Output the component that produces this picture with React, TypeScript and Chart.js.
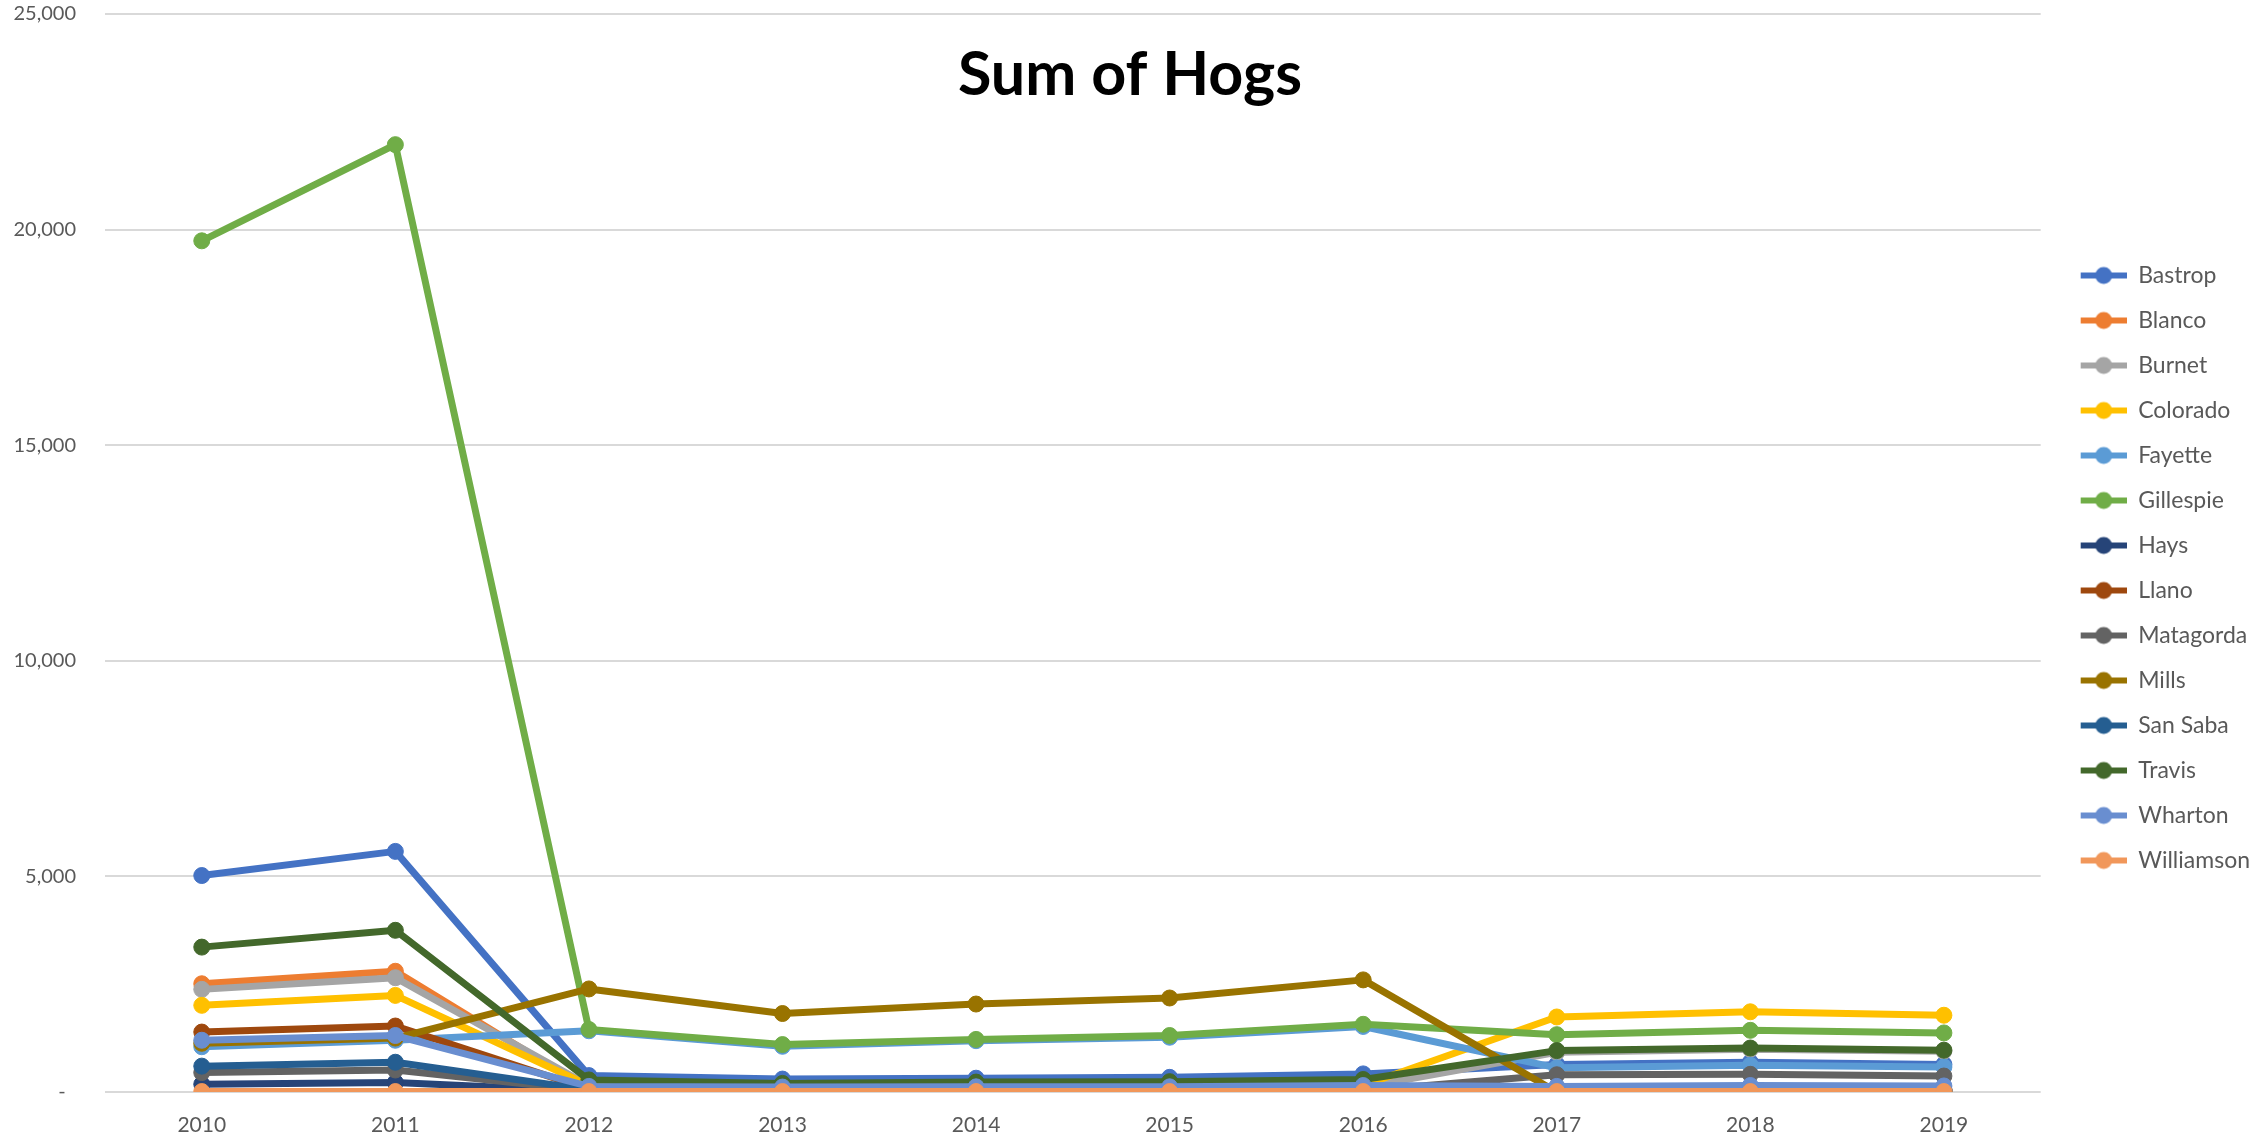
import React, { useEffect, useRef } from "react";
import { Chart, registerables } from "chart.js";

Chart.register(...registerables);

const chartTitle = "Sum of Hogs";
const years = ["2010", "2011", "2012", "2013", "2014", "2015", "2016", "2017", "2018", "2019"];

const bastrop = [5020, 5580, 380, 300, 320, 340, 420, 640, 690, 640];
const blanco = [2510, 2800, 60, 50, 50, 60, 80, 60, 60, 60];
const burnet = [2380, 2650, 150, 140, 150, 150, 110, 920, 990, 945];
const colorado = [2010, 2240, 150, 120, 130, 130, 150, 1740, 1860, 1780];
const fayette = [1050, 1200, 1420, 1060, 1190, 1270, 1520, 560, 620, 580];
const gillespie = [19740, 21970, 1450, 1100, 1220, 1310, 1570, 1330, 1430, 1370];
const hays = [180, 220, 20, 20, 20, 20, 20, 20, 20, 20];
const llano = [1390, 1530, 60, 40, 40, 40, 40, 40, 40, 40];
const matagorda = [450, 510, 30, 30, 30, 30, 30, 400, 410, 370];
const mills = [1130, 1250, 2390, 1820, 2040, 2180, 2600, 0, 0, 0];
const sanSaba = [600, 690, 50, 50, 50, 50, 50, 50, 50, 50];
const travis = [3360, 3750, 280, 200, 230, 240, 290, 960, 1020, 970];
const wharton = [1200, 1310, 130, 115, 120, 120, 150, 130, 150, 140];
const williamson = [10, 10, 10, 10, 10, 10, 10, 10, 10, 10];

const seriesNames = [
  "Bastrop", "Blanco", "Burnet", "Colorado", "Fayette", "Gillespie", "Hays",
  "Llano", "Matagorda", "Mills", "San Saba", "Travis", "Wharton", "Williamson",
];
const seriesColors = [
  "#4472C4", "#ED7D31", "#A5A5A5", "#FFC000", "#5B9BD5", "#70AD47", "#264478",
  "#9E480E", "#636363", "#997300", "#255E91", "#43682B", "#698ED0", "#F1975A",
];
const yTickValues = [0, 5000, 10000, 15000, 20000, 25000];

const FONT = "Lato, Calibri, 'Liberation Sans', sans-serif";

export default function App() {
  const ref = useRef<HTMLCanvasElement>(null);

  useEffect(() => {
    document.body.style.margin = "0";
    const canvas = ref.current;
    if (!canvas) return;

    const seriesValues = [
      bastrop, blanco, burnet, colorado, fayette, gillespie, hays,
      llano, matagorda, mills, sanSaba, travis, wharton, williamson,
    ];

    const makeIcon = (color: string) => {
      const c = document.createElement("canvas");
      c.width = 64;
      c.height = 20;
      const g = c.getContext("2d")!;
      g.strokeStyle = color;
      g.lineWidth = 6;
      g.beginPath();
      g.moveTo(18, 10);
      g.lineTo(64, 10);
      g.stroke();
      g.fillStyle = color;
      g.beginPath();
      g.arc(41, 10, 8.5, 0, Math.PI * 2);
      g.fill();
      return c;
    };
    const icons = seriesColors.map(makeIcon);

    const titlePlugin = {
      id: "overlayTitle",
      afterDraw(chart: any) {
        const ctx = chart.ctx;
        ctx.save();
        ctx.font = `bold 61px ${FONT}`;
        ctx.fillStyle = "#000000";
        ctx.textAlign = "center";
        ctx.textBaseline = "alphabetic";
        ctx.fillText(chartTitle, chart.width / 2, 95);
        ctx.restore();
      },
    };

    const chart = new Chart(canvas, {
      type: "line",
      data: {
        labels: years,
        datasets: seriesNames.map((name, i) => ({
          label: name,
          data: seriesValues[i],
          borderColor: seriesColors[i],
          backgroundColor: seriesColors[i],
          pointBackgroundColor: seriesColors[i],
          pointBorderColor: seriesColors[i],
          pointBorderWidth: 1,
          pointRadius: 8,
          borderWidth: 7,
          borderJoinStyle: "round" as const,
          borderCapStyle: "round" as const,
          tension: 0,
          fill: false,
          order: seriesNames.length - i,
        })),
      },
      options: {
        responsive: false,
        animation: false,
        events: [],
        layout: { padding: { left: 0, right: 0, top: 0, bottom: 3 } },
        scales: {
          x: {
            type: "category",
            offset: true,
            afterFit: (scale: any) => {
              scale.height = 44;
            },
            grid: { display: false },
            border: { display: false },
            ticks: {
              color: "#595959",
              font: { family: FONT, size: 21 },
              padding: 13,
              maxRotation: 0,
              autoSkip: false,
            },
          },
          y: {
            min: 0,
            max: 25000,
            afterFit: (scale: any) => {
              scale.width = 105;
              scale.paddingTop = 14;
              scale.paddingBottom = 0;
            },
            afterBuildTicks: (scale: any) => {
              scale.ticks = yTickValues.map((v) => ({ value: v }));
            },
            grid: { color: "#D9D9D9", lineWidth: 2, drawTicks: false },
            border: { display: false },
            ticks: {
              color: "#595959",
              font: { family: FONT, size: 20 },
              padding: 29,
              callback: (v: any) =>
                Number(v) === 0 ? "-  " : Number(v).toLocaleString("en-US"),
            },
          },
        },
        plugins: {
          title: { display: false },
          tooltip: { enabled: false },
          legend: {
            position: "right",
            align: "center",
            labels: {
              usePointStyle: true,
              pointStyleWidth: 64,
              padding: 22,
              color: "#595959",
              font: { family: FONT, size: 23 },
              sort: (a: any, b: any) => a.datasetIndex - b.datasetIndex,
              generateLabels: (ch: any) =>
                Chart.defaults.plugins.legend.labels
                  .generateLabels(ch)
                  .map((l: any) => ({ ...l, pointStyle: icons[l.datasetIndex] })),
            },
          },
        },
      },
      plugins: [titlePlugin],
    });

    return () => chart.destroy();
  }, []);

  return (
    <div style={{ width: 2260, height: 1139 }}>
      <canvas ref={ref} width={2260} height={1139} style={{ display: "block" }} />
    </div>
  );
}
